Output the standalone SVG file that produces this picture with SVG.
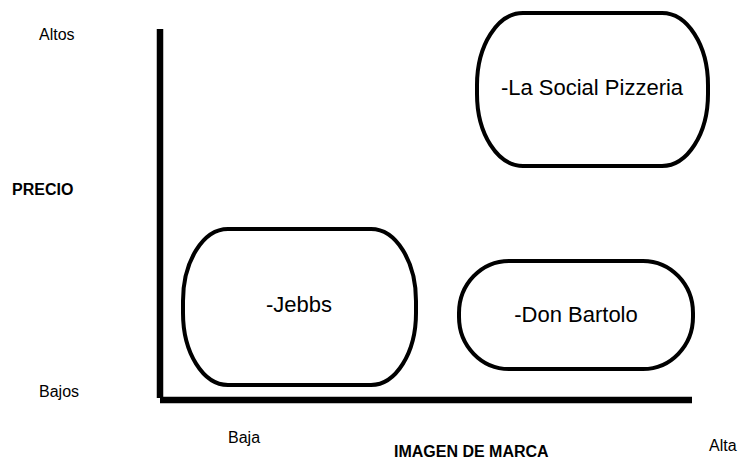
<svg xmlns="http://www.w3.org/2000/svg" width="740" height="461" viewBox="0 0 740 461">
<style>
.box{fill:#fff;stroke:#000;stroke-width:4}
.axis{stroke:#000;stroke-width:6.5;fill:none}
.lbl{font-family:"Liberation Sans",Arial,sans-serif;font-size:16px;fill:#000}
.b{font-weight:bold}
.nt{font-family:"Liberation Sans",Arial,sans-serif;font-size:22px;fill:#000;text-anchor:middle}
</style>
<rect width="740" height="461" fill="#fff"/>
<g id="axes">
<line class="axis" x1="160" y1="29" x2="160" y2="398"/>
<line class="axis" x1="160" y1="400" x2="692" y2="400"/>
</g>
<g id="labels">
<text class="lbl" x="39" y="40">Altos</text>
<text class="lbl b" x="12" y="195">PRECIO</text>
<text class="lbl" x="39" y="397">Bajos</text>
<text class="lbl" x="228" y="443">Baja</text>
<text class="lbl b" x="394" y="457">IMAGEN DE MARCA</text>
<text class="lbl" x="709" y="451">Alta</text>
</g>
<g id="lasocial">
<rect class="box" x="477" y="13" width="231" height="153" rx="46" ry="72"/>
<text class="nt" x="592" y="95">-La Social Pizzeria</text>
</g>
<g id="jebbs">
<rect class="box" x="183" y="229" width="233" height="156" rx="45" ry="72"/>
<text class="nt" x="299" y="312">-Jebbs</text>
</g>
<g id="donbartolo">
<rect class="box" x="459" y="261" width="234" height="108" rx="50" ry="52"/>
<text class="nt" x="576" y="322">-Don Bartolo</text>
</g>
</svg>
